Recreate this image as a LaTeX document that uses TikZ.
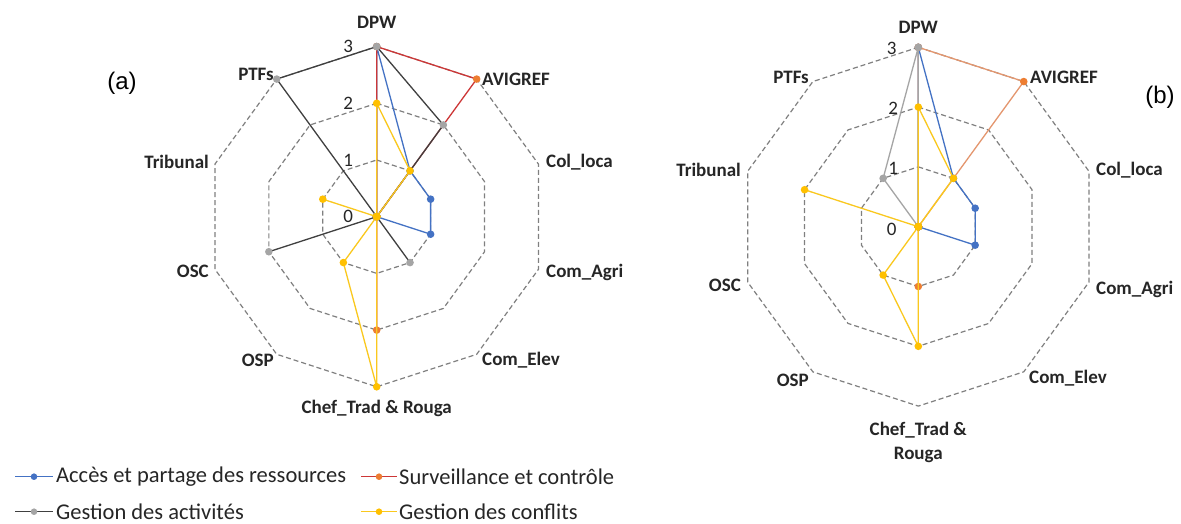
\documentclass[tikz,border=0pt]{standalone}
\usepackage{fontspec}
\usetikzlibrary{calc}
\setmainfont{Carlito}
\newfontfamily\arialfont{Liberation Sans}
\definecolor{cblue}{HTML}{4472C4}
\definecolor{corange}{HTML}{ED7D31}
\definecolor{cgray}{HTML}{A5A5A5}
\definecolor{cyellow}{HTML}{FFC000}
\definecolor{cyline}{RGB}{250,200,30}
\definecolor{cred}{RGB}{205,55,55}
\definecolor{cdark}{HTML}{404040}
\definecolor{cpeach}{RGB}{228,150,110}
\definecolor{cgrid}{HTML}{808080}
\newcommand\rseries[5]{%
  \foreach \v [count=\i from 0] in {#5} {\coordinate (#1-\i) at ({90-36*\i}:{\v*#2});}
  \draw[#3] (#1-0) \foreach \i in {1,...,9} {-- (#1-\i)} -- cycle;
  \foreach \i in {0,...,9} {\fill[#4] (#1-\i) circle (3.8pt);}
}
\newcommand\rgrid[1]{%
  \foreach \r in {1,2,3} {\draw[gridline] (90:{\r*#1}) \foreach \k in {1,...,9} {-- ({90-36*\k}:{\r*#1})} -- cycle;}
}
\begin{document}
\begin{tikzpicture}[x=1pt,y=1pt,
  gridline/.style={draw=cgrid,line width=1.2pt,dash pattern=on 5pt off 3pt},
  serline/.style={line width=1.3pt,line join=round},
  cat/.style={font=\bfseries\fontsize{19}{22}\selectfont,text=black!85,inner sep=0pt},
  tick/.style={font=\fontsize{19}{22}\selectfont,text=black!85,inner sep=0pt},
  leg/.style={font=\fontsize{22.5}{26}\selectfont,text=black!85,anchor=west,inner sep=0pt},
  panel/.style={font=\arialfont\fontsize{24}{28}\selectfont,inner sep=0pt}]
\useasboundingbox (0,0) rectangle (1181,524);
\fill[white] (0,0) rectangle (1181,524);

% ---------------- chart (a) ----------------
\begin{scope}[shift={(376.7,307.3)}]
  \rgrid{56.7}
  \rseries{ab}{56.7}{serline,cblue}{cblue}{3,1,1,1,0,0,0,0,0,0}
  \rseries{ao}{56.7}{serline,cred}{corange}{3,3,0,0,0,2,0,0,0,0}
  \rseries{ag}{56.7}{serline,cdark}{cgray}{3,2,0,0,1,0,0,2,0,3}
  \rseries{ay}{56.7}{serline,cyline}{cyellow}{2,1,0,0,0,3,1,0,1,0}
  \node[tick] (at3) at (-28.5,170.1) {3};
  \node[tick] (at2) at (-28.5,113.4) {2};
  \node[tick] (at1) at (-28.5,56.7) {1};
  \node[tick] (at0) at (-28.5,0) {0};
\end{scope}
\node[cat] (a-dpw) at (376.7,502) {DPW};
\node[cat,anchor=west] (a-avi) at (482,445) {AVIGREF};
\node[cat,anchor=west] (a-col) at (546,362) {Col\_loca};
\node[cat,anchor=west] (a-agr) at (546,252) {Com\_Agri};
\node[cat,anchor=west] (a-ele) at (482,164) {Com\_Elev};
\node[cat] (a-chef) at (376.7,115.5) {Chef\_Trad \& Rouga};
\node[cat,anchor=east] (a-osp) at (274,164) {OSP};
\node[cat,anchor=east] (a-osc) at (209,253) {OSC};
\node[cat,anchor=east] (a-tri) at (209,362) {Tribunal};
\node[cat,anchor=east] (a-ptf) at (274,450) {PTFs};
\node[panel] (lbl-a) at (122,441) {(a)};

% ---------------- chart (b) ----------------
\begin{scope}[shift={(918.3,297.3)}]
  \rgrid{59.8}
  \rseries{bb}{59.8}{serline,cblue}{cblue}{3,1,1,1,0,0,0,0,0,0}
  \rseries{bo}{59.8}{serline,cpeach}{corange}{3,3,0,0,0,1,0,0,0,0}
  \rseries{bg}{59.8}{serline,cgray}{cgray}{3,0,0,0,0,0,0,0,0,1}
  \rseries{by}{59.8}{serline,cyline}{cyellow}{2,1,0,0,0,2,1,0,2,0}
  \node[tick] (bt3) at (-26.5,178.4) {3};
  \node[tick] (bt2) at (-25,118) {2};
  \node[tick] (bt1) at (-25,58) {1};
  \node[tick] (bt0) at (-26.5,-2.5) {0};
\end{scope}
\node[cat] (b-dpw) at (918.3,497) {DPW};
\node[cat,anchor=west] (b-avi) at (1030,447) {AVIGREF};
\node[cat,anchor=west] (b-col) at (1096,354) {Col\_loca};
\node[cat,anchor=west] (b-agr) at (1096,235) {Com\_Agri};
\node[cat,anchor=west] (b-ele) at (1029,146) {Com\_Elev};
\node[cat,align=center,font=\bfseries\fontsize{19}{24}\selectfont] (b-chef) at (918.3,82) {Chef\_Trad \&\\Rouga};
\node[cat,anchor=east] (b-osp) at (809,144) {OSP};
\node[cat,anchor=east] (b-osc) at (741,239) {OSC};
\node[cat,anchor=east] (b-tri) at (741,354) {Tribunal};
\node[cat,anchor=east] (b-ptf) at (809,447) {PTFs};
\node[panel] (lbl-b) at (1160,427) {(b)};

% ---------------- legend ----------------
\coordinate (l1a) at (15,47.3);  \coordinate (l1b) at (53,47.3);
\coordinate (l2a) at (361,47.3); \coordinate (l2b) at (397,47.3);
\coordinate (l3a) at (15,12.3);  \coordinate (l3b) at (53,12.3);
\coordinate (l4a) at (361,12.3); \coordinate (l4b) at (397,12.3);
\draw[serline,cblue] (l1a) -- (l1b); \fill[cblue] ($(l1a)!0.5!(l1b)$) circle (3.3pt);
\draw[serline,cred] (l2a) -- (l2b); \fill[corange] ($(l2a)!0.5!(l2b)$) circle (3.3pt);
\draw[serline,cdark] (l3a) -- (l3b); \fill[cgray] ($(l3a)!0.5!(l3b)$) circle (3.3pt);
\draw[serline,cyline] (l4a) -- (l4b); \fill[cyellow] ($(l4a)!0.5!(l4b)$) circle (3.3pt);
\node[leg] (t1) at (56,47.3) {Accès et partage des ressources};
\node[leg] (t2) at (399,47.3) {Surveillance et contrôle};
\node[leg] (t3) at (56,12.3) {Gestion des activités};
\node[leg] (t4) at (399,12.3) {Gestion des conflits};
\end{tikzpicture}
\end{document}
